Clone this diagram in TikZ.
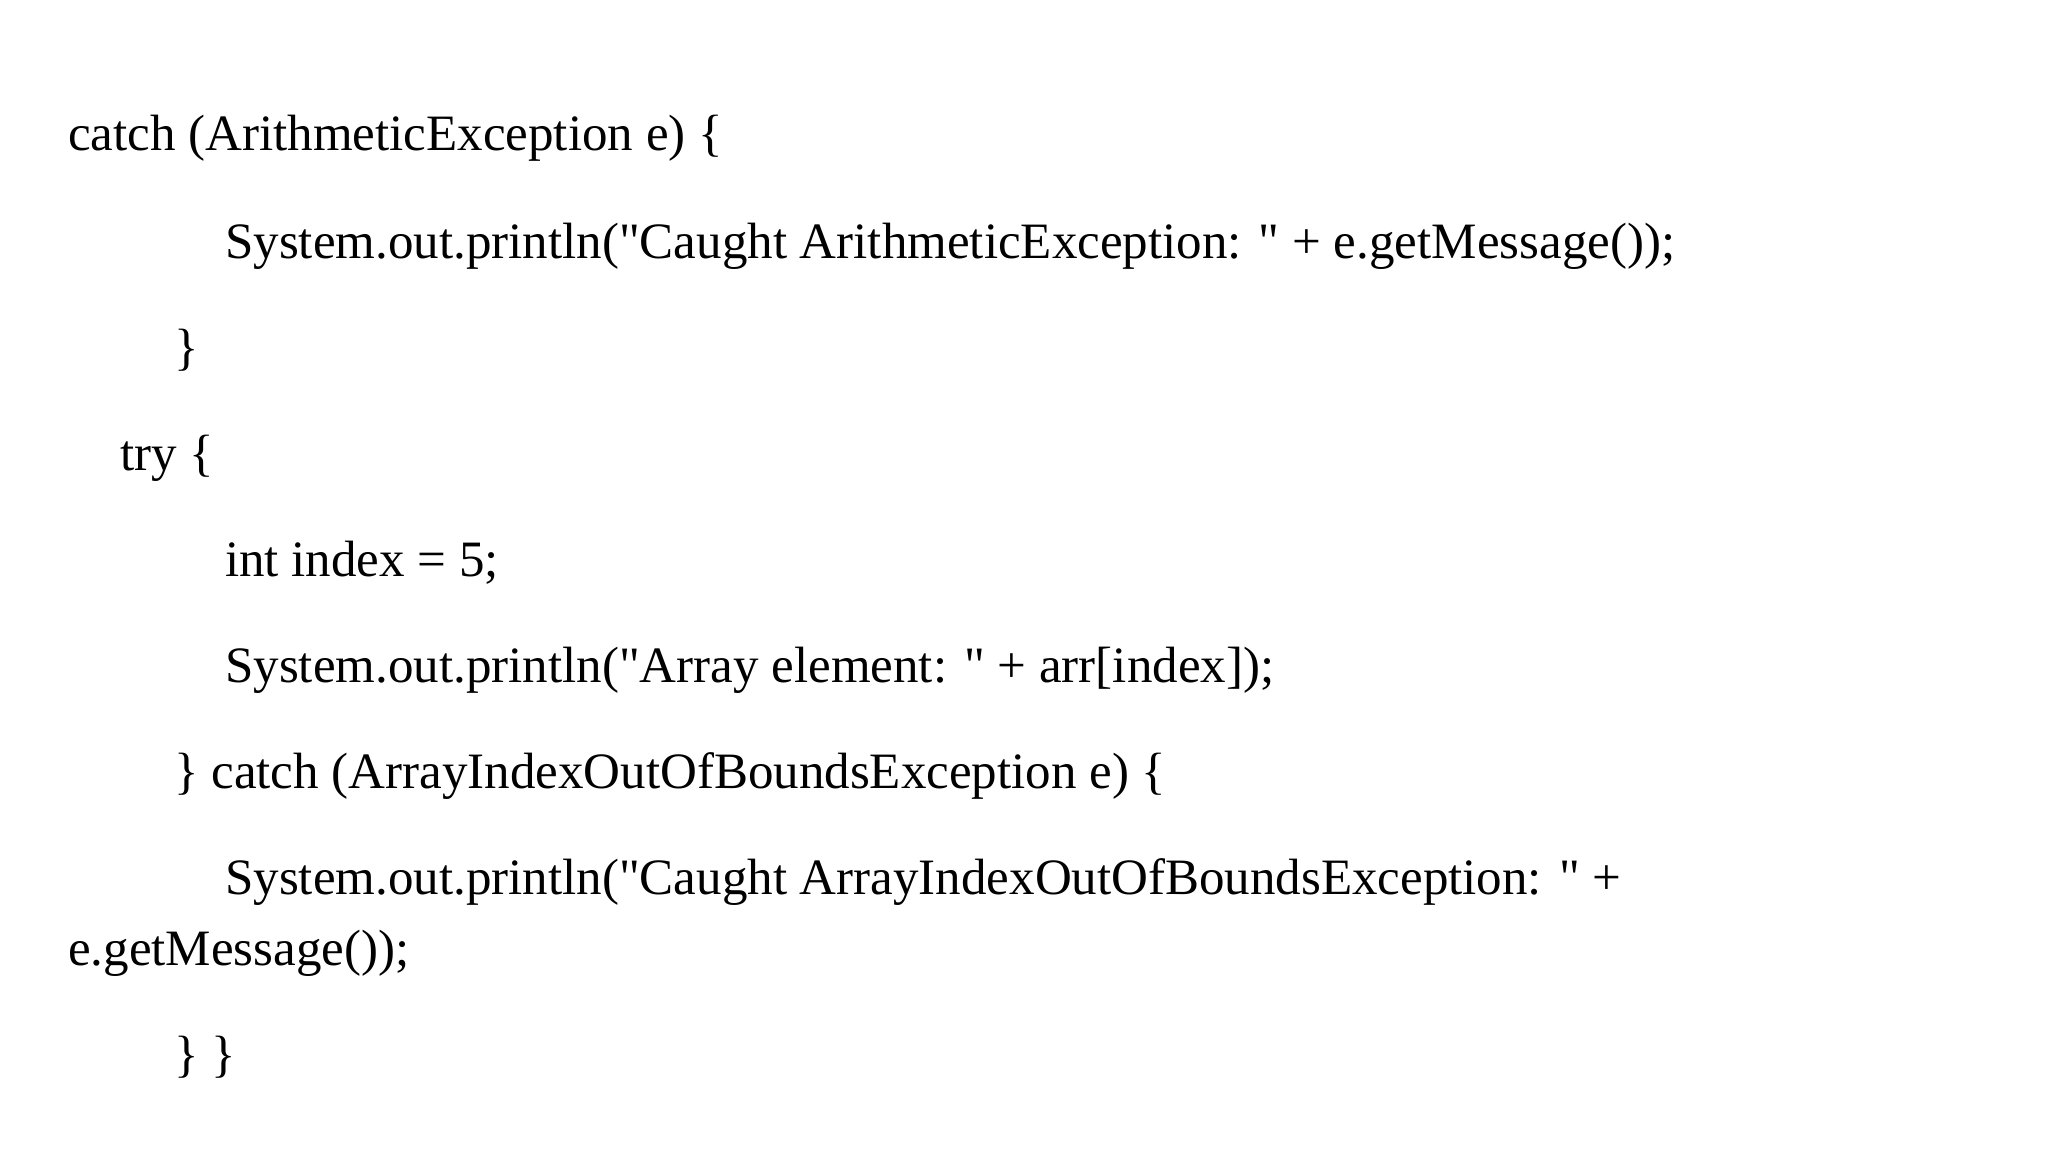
\documentclass[tikz,border=0pt]{standalone}
\usepackage{fontspec}
\setmainfont{Liberation Serif}[Ligatures=TeXOff]
\begin{document}
\begin{tikzpicture}[x=1pt,y=-1pt,txt/.style={anchor=base west,inner sep=0pt,font=\fontsize{51}{60}\selectfont}]
\useasboundingbox[fill=white] (0,0) rectangle (2048,1152);
\node[txt] (l1) at (68,150) {catch (ArithmeticException e) \{};
\node[txt] (l2) at (225,258) {System.out.println("Caught ArithmeticException: " + e.getMessage());};
\node[txt] (l3) at (174,364) {\}};
\node[txt] (l4) at (120,470) {try \{};
\node[txt] (l5) at (225,576) {int index = 5;};
\node[txt] (l6) at (225,682) {System.out.println("Array element: " + arr[index]);};
\node[txt] (l7) at (174,788) {\} catch (ArrayIndexOutOfBoundsException e) \{};
\node[txt] (l8) at (225,894) {System.out.println("Caught ArrayIndexOutOfBoundsException: " +};
\node[txt] (l9) at (68,965) {e.getMessage());};
\node[txt] (l10) at (174,1071) {\} \}};
\end{tikzpicture}
\end{document}
